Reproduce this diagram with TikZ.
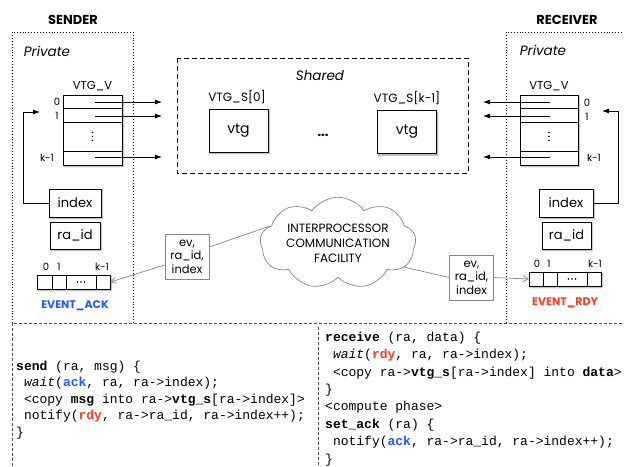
\documentclass[tikz,border=0pt]{standalone}
\usepackage{fontspec}
\setmainfont{Poppins}
\setmonofont{Liberation Mono}
\usetikzlibrary{shapes.symbols,arrows.meta,shadows.blur}

\definecolor{ackblue}{RGB}{30,90,250}
\definecolor{rdyred}{RGB}{250,60,30}
\definecolor{msggray}{RGB}{135,135,135}
\definecolor{codeline}{RGB}{80,80,80}

\newcommand{\ack}{\textcolor{ackblue}{\textbf{ack}}}
\newcommand{\rdy}{\textcolor{rdyred}{\textbf{rdy}}}
\newcommand{\ind}{\hphantom{x}}

\begin{document}
\begin{tikzpicture}[x=1pt,y=-1pt,
  softshadow/.style={blur shadow={shadow xshift=1.2pt,shadow yshift=-1.5pt,
      shadow blur radius=1.5pt,shadow blur steps=5,shadow opacity=40}},
  heading/.style={font=\fontsize{13}{15}\selectfont\bfseries, inner sep=0},
  privlbl/.style={font=\fontsize{13.5}{15}\selectfont\itshape, inner sep=0},
  lbl/.style={font=\fontsize{11.5}{13}\selectfont, inner sep=0},
  idx/.style={font=\fontsize{10}{12}\selectfont, inner sep=0},
  cell/.style={draw, line width=0.8pt, fill=white, inner sep=0, minimum width=#1},
  backing/.style={fill=white, inner sep=0, softshadow},
  regbox/.style={draw, line width=0.8pt, fill=white, inner sep=0, softshadow,
      font=\fontsize{13}{15}\selectfont},
  vtgbox/.style={draw, line width=0.8pt, fill=white, inner sep=0, softshadow,
      minimum width=59pt, minimum height=43pt, font=\fontsize{14}{16}\selectfont},
  msgbox/.style={draw=msggray, line width=0.7pt, fill=white, inner sep=0,
      minimum width=44pt, minimum height=45pt, align=center,
      font=\fontsize{11.5}{13.5}\selectfont},
  arr/.style={line width=0.8pt, -{Latex[length=7pt,width=5pt]}},
  fb/.style={line width=0.8pt, -{Latex[length=7pt,width=5pt]}},
  msgarr/.style={draw=msggray, line width=0.7pt, -{Straight Barb[length=5pt,width=6pt]}},
  msgline/.style={draw=msggray, line width=0.7pt},
  privbox/.style={dotted, line width=0.9pt},
  codebox/.style={dashed, dash pattern=on 3pt off 2pt, draw=codeline, line width=0.7pt},
  code/.style={font=\fontsize{13}{15}\selectfont\ttfamily, inner sep=0, anchor=west},
  celldots/.style={fill=black},
]
\useasboundingbox (0,0) rectangle (624,466);

% ---------- private regions ----------
\draw[privbox] (12,323) -- (12,32) -- (133,32) -- (133,323);
\draw[privbox] (506,323) -- (506,32) -- (624,32);
\node[heading] (sendtitle) at (73,20) {SENDER};
\node[heading] (recvtitle) at (567,20) {RECEIVER};
\node[privlbl] (sprivate) at (47,51) {Private};
\node[privlbl] (rprivate) at (543,50) {Private};

% ---------- shared region ----------
\draw[dashed, dash pattern=on 5pt off 3pt, line width=0.8pt] (177,58) rectangle (468,173);
\node[privlbl] (shared) at (320,76) {Shared};
\node[lbl, font=\fontsize{12}{14}\selectfont] (vs0lbl) at (237,97) {VTG\_S[0]};
\node[lbl, font=\fontsize{12}{14}\selectfont] (vsklbl) at (407,98) {VTG\_S[k-1]};
\node[vtgbox] (vs0) at (238.5,130.5) {vtg};
\node[vtgbox] (vsk) at (407,132) {vtg};
\node[font=\fontsize{13}{15}\selectfont\bfseries, inner sep=0] (sdots) at (323,135) {...};

% ---------- sender VTG_V table ----------
\node[lbl] (svlbl) at (92.5,86) {VTG\_V};
\node[backing, minimum width=59pt, minimum height=70pt] (stab) at (92.5,130) {};
\node[cell=59pt, minimum height=13pt] (s0) at (92.5,101.5) {};
\node[cell=59pt, minimum height=14pt] (s1) at (92.5,115) {};
\node[cell=59pt, minimum height=29pt] (sd) at (92.5,136.5) {};
\node[cell=59pt, minimum height=14pt] (sk) at (92.5,158) {};
\foreach \d in {-4,0,4} \fill[celldots] ([yshift=\d pt]sd.center) circle (0.9pt);
\node[idx] (s0i) at (57,102) {0};
\node[idx] (s1i) at (57,116) {1};
\node[idx] (ski) at (47,158) {k-1};
\coordinate (s0a) at (95,102);
\coordinate (s1a) at (95,116);
\coordinate (ska) at (95,157);
\coordinate (s0t) at (162,102);
\coordinate (s1t) at (162,116);
\coordinate (skt) at (162,157);
\draw[arr] (s0a) -- (s0t);
\draw[arr] (s1a) -- (s1t);
\draw[arr] (ska) -- (skt);

\node[regbox, minimum width=52pt, minimum height=28pt] (sindex) at (75,203) {index};
\node[regbox, minimum width=50pt, minimum height=27pt] (sraid) at (75,235.5) {ra\_id};
\coordinate (sfbtip) at (40,112);
\draw[fb] (sindex.west) -- (23,203) -- (23,112) -- (sfbtip);

% sender EVENT_ACK array
\node[backing, minimum width=73pt, minimum height=14pt] (sarr) at (73.5,282) {};
\node[cell=15pt, minimum height=14pt] (sa0) at (44.5,282) {};
\node[cell=14pt, minimum height=14pt] (sa1) at (59,282) {};
\node[cell=30pt, minimum height=14pt] (sad) at (81,282) {};
\node[cell=14pt, minimum height=14pt] (sak) at (103,282) {};
\foreach \d in {-3.5,0,3.5} \fill[celldots] ([xshift=\d pt]sad.center) circle (0.95pt);
\node[idx] (sa0i) at (46,267) {0};
\node[idx] (sa1i) at (59,267) {1};
\node[idx] (saki) at (102,267) {k-1};
\node[heading, font=\fontsize{11}{13}\selectfont\bfseries, text=ackblue] (evack) at (75,306) {EVENT\_ACK};

% ---------- receiver VTG_V table ----------
\node[lbl] (rvlbl) at (549,86) {VTG\_V};
\node[backing, minimum width=58pt, minimum height=70pt] (rtab) at (549,130) {};
\node[cell=58pt, minimum height=13pt] (r0) at (549,101.5) {};
\node[cell=58pt, minimum height=14pt] (r1) at (549,115) {};
\node[cell=58pt, minimum height=29pt] (rd) at (549,136.5) {};
\node[cell=58pt, minimum height=14pt] (rk) at (549,158) {};
\foreach \d in {-4,0,4} \fill[celldots] ([yshift=\d pt]rd.center) circle (0.9pt);
\node[idx] (r0i) at (587,103) {0};
\node[idx] (r1i) at (587,117) {1};
\node[idx] (rki) at (594,158) {k-1};
\coordinate (r0a) at (550,102);
\coordinate (r1a) at (550,116);
\coordinate (rka) at (550,157);
\coordinate (r0t) at (483,102);
\coordinate (r1t) at (483,116);
\coordinate (rkt) at (483,157);
\draw[arr] (r0a) -- (r0t);
\draw[arr] (r1a) -- (r1t);
\draw[arr] (rka) -- (rkt);

\node[regbox, minimum width=54pt, minimum height=28pt] (rindex) at (566,203) {index};
\node[regbox, minimum width=49pt, minimum height=27pt] (rraid) at (566.5,235.5) {ra\_id};
\coordinate (rfbtip) at (602,111);
\draw[fb] (rindex.east) -- (618,203) -- (618,111) -- (rfbtip);

% receiver EVENT_RDY array
\node[backing, minimum width=72pt, minimum height=14pt] (rarr) at (565,279) {};
\node[cell=14pt, minimum height=14pt] (ra0) at (536,279) {};
\node[cell=14pt, minimum height=14pt] (ra1) at (550,279) {};
\node[cell=30pt, minimum height=14pt] (rad) at (572,279) {};
\node[cell=14pt, minimum height=14pt] (rak) at (594,279) {};
\foreach \d in {-3.5,0,3.5} \fill[celldots] ([xshift=\d pt]rad.center) circle (0.95pt);
\node[idx] (ra0i) at (537,264) {0};
\node[idx] (ra1i) at (549,264) {1};
\node[idx] (raki) at (595,264) {k-1};
\node[heading, font=\fontsize{11}{13}\selectfont\bfseries, text=rdyred] (evrdy) at (565,303) {EVENT\_RDY};

% ---------- interprocessor communication ----------
\node[cloud, cloud puffs=9, cloud puff arc=110, aspect=2.1, draw=msggray,
      line width=0.7pt, minimum width=156pt, minimum height=74pt, inner sep=0,
      align=center, font=\fontsize{12}{15}\selectfont] (ipc) at (338,243)
      {INTERPROCESSOR\\COMMUNICATION\\FACILITY};
\node[msgbox] (evl) at (187,256.5) {ev,\\ra\_id,\\index};
\node[msgbox] (evr) at (471.5,277.5) {ev,\\ra\_id,\\index};
\draw[msgline] (ipc.166) -- ([yshift=9.5pt]evl.east);
\draw[msgarr] ([yshift=-8.5pt]evl.west) -- (sak.east);
\draw[msgline] (ipc.-20) -- (evr.west);
\draw[msgarr] (evr.east) -- (ra0.west);

% ---------- code regions ----------
\draw[codebox] (12,466) -- (12,323) -- (624,323);
\draw[codebox] (318,327) -- (318,466);

\node[code] (c1) at (16,367) {\textbf{send} (ra, msg) \{};
\node[code] (c2) at (16,383.5) {\ind\textit{wait}(\ack, ra, ra->index);};
\node[code] (c3) at (16,400) {\ind<copy \textbf{msg} into ra->\textbf{vtg\_s}[ra->index]>};
\node[code] (c4) at (16,416.5) {\ind notify(\rdy, ra->ra\_id, ra->index++);};
\node[code] (c5) at (16,433) {\}};

\node[code] (d1) at (325,338) {\textbf{receive} (ra, data) \{};
\node[code] (d2) at (325,355.4) {\ind\textit{wait}(\rdy, ra, ra->index);};
\node[code] (d3) at (325,372.8) {\ind<copy ra->\textbf{vtg\_s}[ra->index] into \textbf{data}>};
\node[code] (d4) at (325,390.2) {\}};
\node[code] (d5) at (325,407.6) {<compute phase>};
\node[code] (d6) at (325,425) {\textbf{set\_ack} (ra) \{};
\node[code] (d7) at (325,442.4) {\ind notify(\ack, ra->ra\_id, ra->index++);};
\node[code] (d8) at (325,459.8) {\}};
\end{tikzpicture}
\end{document}
